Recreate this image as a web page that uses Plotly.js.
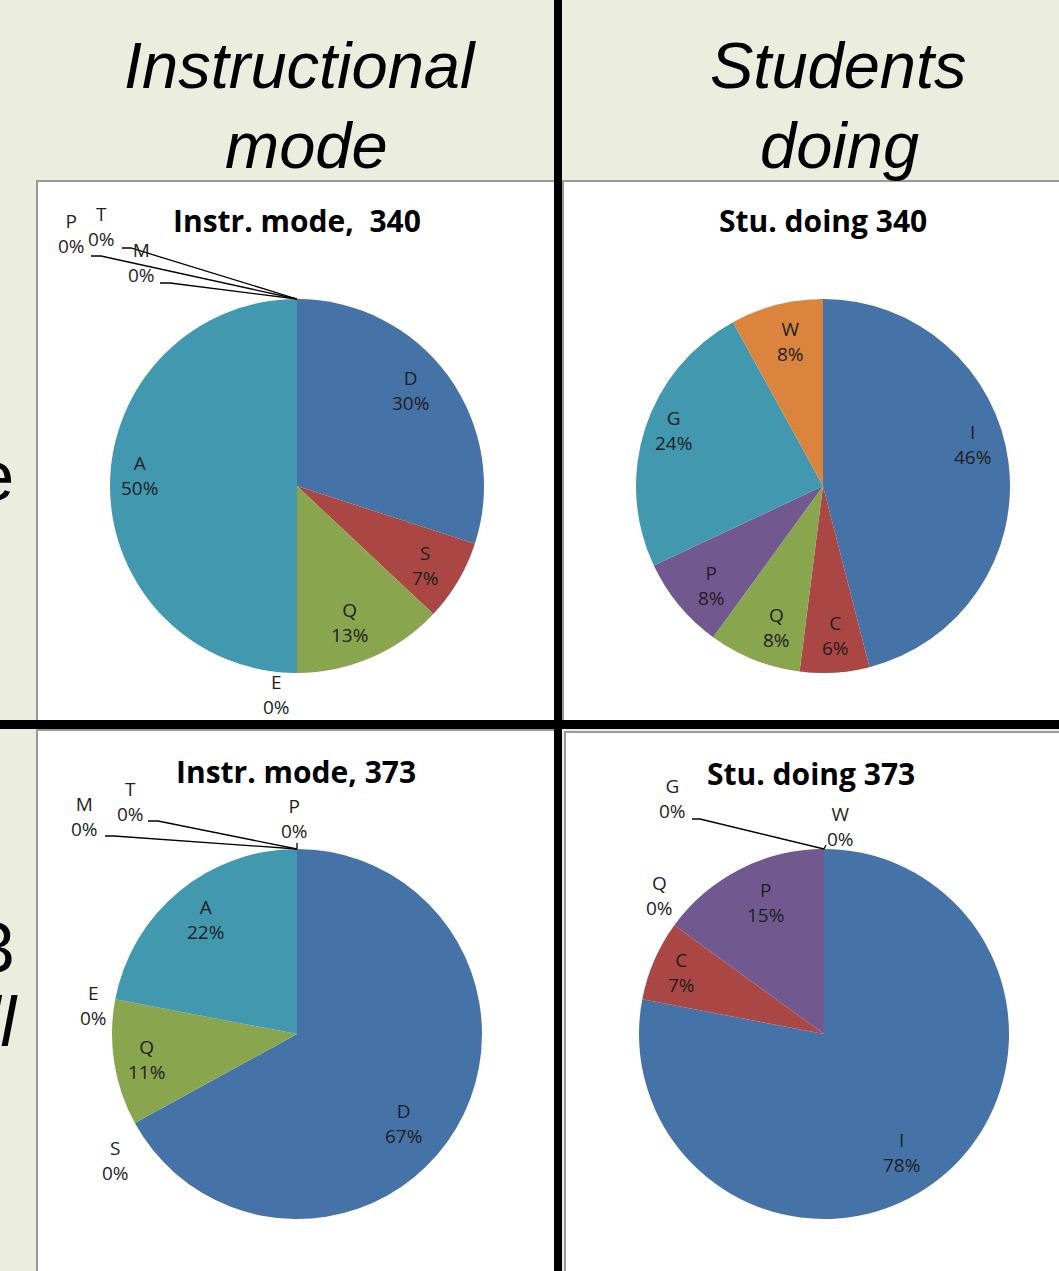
<!DOCTYPE html>
<html>
<head>
<meta charset="utf-8">
<script src="https://cdn.plot.ly/plotly-3.0.1.min.js"></script>
<style>
  html, body { margin: 0; padding: 0; background: #EBEEDF; }
  #chart { width: 1059px; height: 1271px; }
</style>
</head>
<body>
<div id="chart"></div>
<script>
// ---- data ----
const modeCategories = ['D', 'S', 'Q', 'E', 'A', 'P', 'T', 'M'];
const modeShares340 = [30, 7, 13, 0, 50, 0, 0, 0];
const modeShares373 = [67, 0, 11, 0, 22, 0, 0, 0];

const doingCategories = ['I', 'C', 'Q', 'P', 'G', 'W'];
const doingShares340 = [46, 6, 8, 8, 24, 8];
const doingShares373 = [78, 7, 0, 15, 0, 0];

const chartTitles = ['Instr. mode,\u00a0\u00a0340', 'Stu. doing\u00a0340', 'Instr. mode, 373', 'Stu. doing\u00a0373'];
const columnHeads = [['Instructional', 'mode'], ['Students', 'doing']];

// ---- page geometry (pixels) ----
const W = 1059, H = 1271;
const px = x => x / W;
const py = y => 1 - y / H;

const sliceColors = ['#4572A7', '#AA4643', '#89A54E', '#71588F', '#4198AF', '#DB843D', '#93A9CF', '#D19392'];
const labelFont = { family: 'Open Sans, sans-serif', size: 19, color: '#1e1e1e' };
const BG = '#EBEEDF';

// placement of each pie, its title, and of the labels for empty categories
const panels = [
  {
    cats: modeCategories, vals: modeShares340, title: chartTitles[0],
    cx: 297, cy: 486, r: 187, tx: 297, ty: 220,
    nudge: { D: [-8, -8], Q: [-7, -1], S: [0, 3], A: [-8, -11] },
    zero: {
      P: { at: [71, 233], lead: [[91, 256], [101, 256]] },
      T: { at: [102, 226], lead: [[122, 248], [131, 248]] },
      M: { at: [141, 262], lead: [[160, 283], [170, 283]] },
      E: { at: [276, 694] }
    }
  },
  {
    cats: doingCategories, vals: doingShares340, title: chartTitles[1],
    cx: 823, cy: 486, r: 187, tx: 823, ty: 220,
    nudge: { I: [1, -23], C: [3, 0], Q: [9, 2], P: [4, 4], G: [-7, -9], W: [5, 0] },
    zero: {}
  },
  {
    cats: modeCategories, vals: modeShares373, title: chartTitles[2],
    cx: 297, cy: 1034, r: 185, tx: 296, ty: 771,
    nudge: { D: [-21, 14], Q: [-4, 2], A: [3, 0] },
    zero: {
      M: { at: [84, 816], lead: [[105, 836], [114, 836]] },
      T: { at: [130, 801], lead: [[148, 821], [158, 821]] },
      P: { at: [294, 818], lead: [[297, 843], [297, 843]] },
      E: { at: [93, 1005] },
      S: { at: [115, 1160] }
    }
  },
  {
    cats: doingCategories, vals: doingShares373, title: chartTitles[3],
    cx: 824, cy: 1034, r: 185, tx: 811, ty: 773,
    nudge: { I: [-17, 4], C: [-7, -3], P: [9, 0] },
    zero: {
      G: { at: [672, 798], lead: [[692, 819], [700, 819]] },
      W: { at: [840, 826], lead: [[826, 845], [826, 845]] },
      Q: { at: [659, 895] }
    }
  }
];

const traces = [];
const annotations = [];
const shapes = [];

// panel backgrounds and the dividing rules
const boxes = [[37, 181, 556, 724], [563, 181, 1066, 724], [37, 730, 556, 1278], [565, 732, 1066, 1278]];
boxes.forEach(b => shapes.push({
  type: 'rect', xref: 'paper', yref: 'paper', layer: 'below',
  x0: px(b[0]), x1: px(b[2]), y0: py(b[1]), y1: py(b[3]),
  fillcolor: '#ffffff', line: { color: '#9a9a9a', width: 2 }
}));
shapes.push({ type: 'rect', xref: 'paper', yref: 'paper', layer: 'below',
  x0: px(554), x1: px(562), y0: py(-5), y1: py(1280), fillcolor: '#000', line: { width: 0 } });
shapes.push({ type: 'rect', xref: 'paper', yref: 'paper', layer: 'below',
  x0: px(-5), x1: px(1065), y0: py(720), y1: py(729), fillcolor: '#000', line: { width: 0 } });

panels.forEach(p => {
  const total = p.vals.reduce((a, b) => a + b, 0);
  traces.push({
    type: 'pie', labels: p.cats, values: p.vals, sort: false,
    direction: 'clockwise', rotation: 0, textinfo: 'none', hoverinfo: 'none',
    showlegend: false,
    marker: { colors: sliceColors.slice(0, p.cats.length), line: { width: 0 } },
    domain: { x: [px(p.cx - p.r), px(p.cx + p.r)], y: [py(p.cy + p.r), py(p.cy - p.r)] }
  });

  annotations.push({
    xref: 'paper', yref: 'paper', x: px(p.tx), y: py(p.ty), xanchor: 'center', yanchor: 'middle',
    text: p.title, showarrow: false,
    font: { family: 'Open Sans, sans-serif', size: 30, color: '#000', weight: 'bold' }
  });

  let cum = 0;
  p.cats.forEach((c, i) => {
    const v = p.vals[i];
    const a0 = cum / total * 2 * Math.PI;
    cum += v;
    const a1 = cum / total * 2 * Math.PI;
    const text = c + '<br>' + v + '%';
    if (v > 0) {
      const mid = (a0 + a1) / 2, rr = 0.8 * p.r;
      const nd = p.nudge[c] || [0, 0];
      const x = p.cx + rr * Math.sin(mid) + nd[0];
      const y = p.cy - rr * Math.cos(mid) + nd[1];
      annotations.push({ xref: 'paper', yref: 'paper', x: px(x), y: py(y),
        xanchor: 'center', yanchor: 'middle', text, showarrow: false, font: labelFont });
    } else {
      const z = p.zero[c];
      if (!z) return;
      annotations.push({ xref: 'paper', yref: 'paper', x: px(z.at[0]), y: py(z.at[1]),
        xanchor: 'center', yanchor: 'middle', text, showarrow: false, font: labelFont });
      if (z.lead) {
        const ex = p.cx + p.r * Math.sin(a0), ey = p.cy - p.r * Math.cos(a0);
        const pts = z.lead.concat([[ex, ey]]);
        const path = pts.map((q, k) => (k ? 'L' : 'M') + px(q[0]) + ',' + py(q[1])).join(' ');
        shapes.push({ type: 'path', xref: 'paper', yref: 'paper', layer: 'above', path,
          line: { color: '#000', width: 1.3 } });
      }
    }
  });
});

// column headings
const headFont = { family: 'Liberation Sans, Arial, sans-serif', size: 65, color: '#000', style: 'italic' };
[[300, 306], [838, 839]].forEach((xs, k) => {
  annotations.push({ xref: 'paper', yref: 'paper', x: px(xs[0]), y: py(65), xanchor: 'center', yanchor: 'middle',
    text: columnHeads[k][0], showarrow: false, font: headFont });
  annotations.push({ xref: 'paper', yref: 'paper', x: px(xs[1]), y: py(145), xanchor: 'center', yanchor: 'middle',
    text: columnHeads[k][1], showarrow: false, font: headFont });
});

// row headings running in from the left edge
const rowFont = { family: 'Liberation Sans, Arial, sans-serif', size: 70, color: '#000' };
annotations.push({ xref: 'paper', yref: 'paper', x: px(16), y: py(476), xanchor: 'right', yanchor: 'middle',
  text: 'mode', showarrow: false, font: rowFont });
annotations.push({ xref: 'paper', yref: 'paper', x: px(17), y: py(948), xanchor: 'right', yanchor: 'middle',
  text: '373', showarrow: false, font: rowFont });
annotations.push({ xref: 'paper', yref: 'paper', x: px(20), y: py(1022), xanchor: 'right', yanchor: 'middle',
  text: 'all', showarrow: false, font: Object.assign({}, rowFont, { style: 'italic' }) });

const layout = {
  width: W, height: H,
  margin: { l: 0, r: 0, t: 0, b: 0 },
  paper_bgcolor: BG, plot_bgcolor: BG,
  shapes, annotations
};

Plotly.newPlot('chart', traces, layout, { staticPlot: true, displayModeBar: false });
</script>
</body>
</html>
